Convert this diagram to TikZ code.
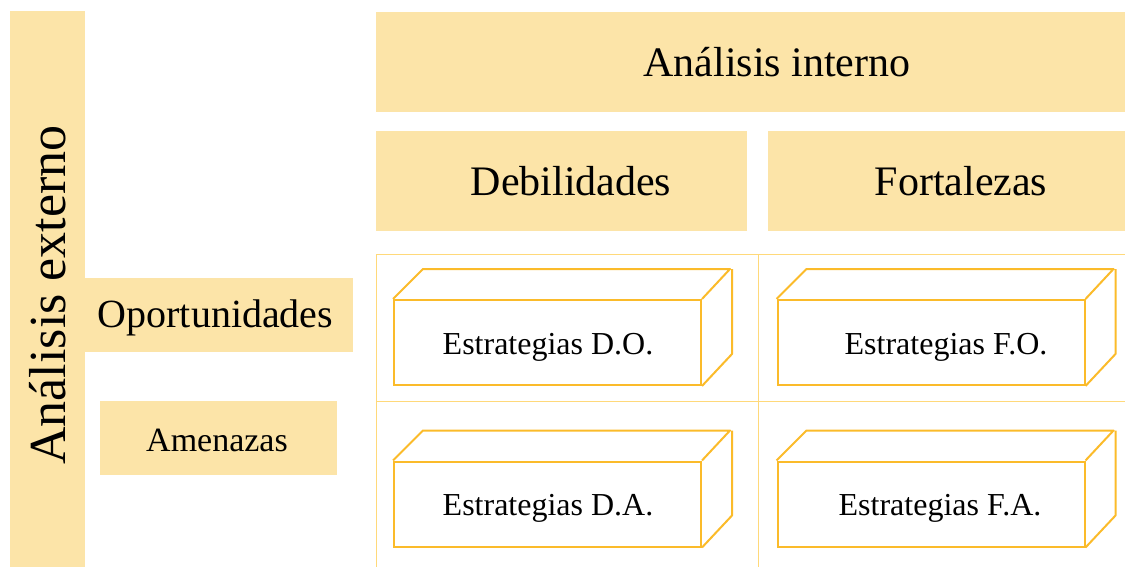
\documentclass[tikz,border=0pt]{standalone}
\usepackage{fontspec}
\setmainfont{Liberation Serif}
\definecolor{boxfill}{HTML}{FCE4A8}
\definecolor{cubeline}{HTML}{FBBB2A}
\definecolor{gridline}{HTML}{FFD97A}
\begin{document}
\begin{tikzpicture}[x=1pt,y=-1pt,
  band/.style={fill=boxfill,draw=none,inner sep=0pt,anchor=north west},
  lbl/.style={inner sep=0pt,text=black},
  front/.style={draw=cubeline,line width=2pt,fill=white,minimum width=307pt,minimum height=85pt,inner sep=0pt},
  cubeedge/.style={draw=cubeline,line width=2pt,line join=round},
  grid/.style={draw=gridline,line width=1pt}]
\useasboundingbox (0,0) rectangle (1125,567);
% left band
\node[band,minimum width=75pt,minimum height=556pt] (ext) at (10,11) {};
\node[lbl,rotate=90,font=\fontsize{52}{52}\selectfont] (extt) at (48,295) {Análisis externo};
% header boxes
\node[band,minimum width=749pt,minimum height=100pt] (int) at (376,12) {};
\node[lbl,font=\fontsize{42}{42}\selectfont] (intt) at (777,62) {Análisis interno};
\node[band,minimum width=371pt,minimum height=100pt] (deb) at (376,131) {};
\node[lbl,font=\fontsize{42}{42}\selectfont] (debt) at (571,181) {Debilidades};
\node[band,minimum width=357pt,minimum height=100pt] (for) at (768,131) {};
\node[lbl,font=\fontsize{42}{42}\selectfont] (fort) at (961,181) {Fortalezas};
% side boxes
\node[band,minimum width=269pt,minimum height=74pt] (opo) at (84,278) {};
\node[lbl,font=\fontsize{40}{40}\selectfont] (opot) at (215.5,318) {Oportunidades};
\node[band,minimum width=237pt,minimum height=74pt] (ame) at (100,401) {};
\node[lbl,font=\fontsize{34}{34}\selectfont] (amet) at (217,440) {Amenazas};
% grid
\coordinate (g1) at (376,254);
\coordinate (g2) at (1125,254);
\coordinate (g3) at (376,567);
\coordinate (g4) at (376,401);
\coordinate (g5) at (1125,401);
\coordinate (g6) at (758,254);
\coordinate (g7) at (758,567);
\draw[grid] (g2) -- (g1) -- (g3);
\draw[grid] (g4) -- (g5);
\draw[grid] (g6) -- (g7);
% cubes
\foreach \n/\cx/\cy in {do/547.5/342.5, fo/931/342.5, da/547.5/504, fa/931/504}{
  \node[front] (\n) at (\cx,\cy) {};
  \draw[cubeedge] (\n.north west) -- ++(30,-30) -- ++(307,0) -- (\n.north east)
                  (\n.north east) ++(30,-30) -- ++(0,85) -- (\n.south east);
}
\node[lbl,font=\fontsize{32}{32}\selectfont] (dot) at (548,347) {Estrategias D.O.};
\node[lbl,font=\fontsize{32}{32}\selectfont] (fot) at (946,347) {Estrategias F.O.};
\node[lbl,font=\fontsize{32}{32}\selectfont] (dat) at (548,508) {Estrategias D.A.};
\node[lbl,font=\fontsize{32}{32}\selectfont] (fat) at (940,508) {Estrategias F.A.};
\end{tikzpicture}
\end{document}
